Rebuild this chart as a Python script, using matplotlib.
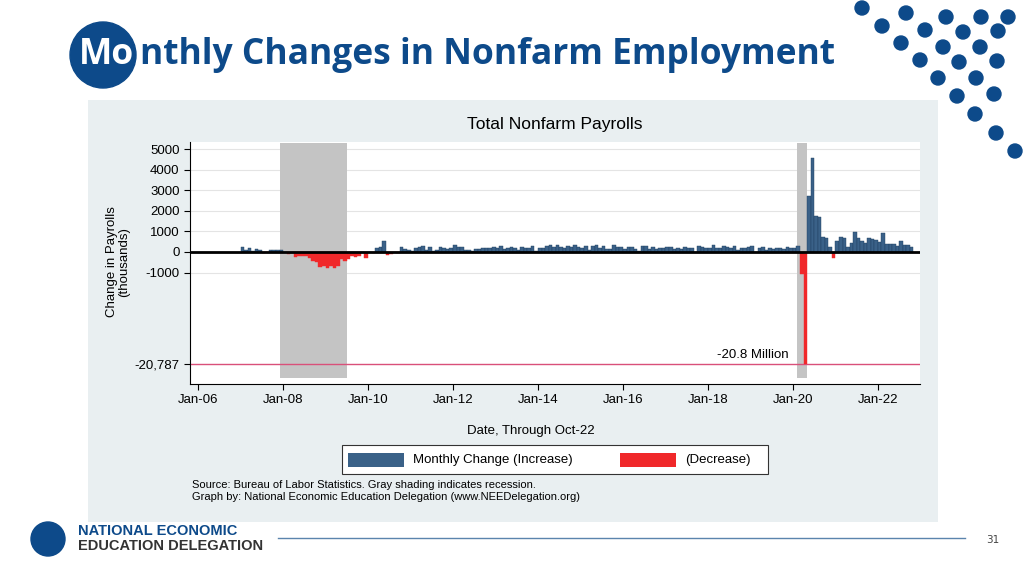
import matplotlib
matplotlib.use("Agg")
import matplotlib.pyplot as plt
from matplotlib.patches import Rectangle, Circle
import numpy as np

years = list(range(2007, 2023))
changes = {
2007: [240, 90, 190, 70, 150, 80, -30, -20, 80, 80, 110, 100],
2008: [10, -80, -50, -230, -180, -170, -210, -270, -460, -480, -730, -700],
2009: [-780, -700, -800, -690, -330, -440, -330, -210, -220, -200, 10, -280],
2010: [10, -50, 180, 240, 520, -140, -90, -10, -70, 260, 130, 80],
2011: [70, 200, 230, 310, 100, 230, 70, 120, 230, 200, 140, 200],
2012: [360, 230, 230, 90, 100, 70, 160, 150, 190, 210, 170, 240],
2013: [190, 310, 140, 200, 240, 180, 110, 240, 190, 210, 280, 50],
2014: [190, 170, 270, 330, 240, 320, 220, 190, 280, 230, 330, 260],
2015: [200, 300, 100, 280, 340, 190, 290, 150, 140, 320, 250, 260],
2016: [140, 250, 230, 140, 40, 290, 290, 150, 250, 150, 200, 180],
2017: [230, 220, 150, 200, 150, 230, 190, 180, 20, 270, 230, 180],
2018: [170, 330, 180, 180, 270, 250, 190, 280, 110, 180, 180, 230],
2019: [310, 20, 200, 230, 90, 170, 160, 210, 200, 150, 260, 180],
2020: [210, 270, -1370, -20787, 2730, 4580, 1730, 1680, 710, 680, 260, -270],
2021: [520, 710, 700, 260, 450, 960, 690, 520, 420, 680, 650, 590],
2022: [500, 900, 400, 370, 390, 290, 540, 350, 350, 260],
}
recessions = [(2007.92, 2009.5), (2020.1, 2020.33)]
ytick_vals = [5000, 4000, 3000, 2000, 1000, 0, -1000, -20787]
ytick_labels = ["5000", "4000", "3000", "2000", "1000", "0", "-1000", "-20,787"]
xtick_years = list(range(2006, 2023, 2))
xtick_labels = ["Jan-%02d" % (y % 100) for y in xtick_years]

def f(v):
    v = np.asarray(v, dtype=float)
    return np.where(v >= -1000, v, -1000 + (v + 1000) * (4437 / 19787))

BLUE = "#3a6188"; RED = "#f0282a"; NAVY = "#0d4a8a"
FONT = "Liberation Sans"
fig = plt.figure(figsize=(10.24, 5.76), dpi=100)
fig.patch.set_facecolor("white")
W, H = 1024, 576
def fx(x): return x / W
def fy(y): return 1 - y / H

bg = fig.add_axes([0, 0, 1, 1], facecolor="none", zorder=0); bg.set_axis_off()
bg.set_xlim(0, W); bg.set_ylim(H, 0)
bg.add_patch(Rectangle((88, 100), 850, 422, facecolor="#e9eff1", edgecolor="none"))

ax = fig.add_axes([fx(190), fy(384), 730 / W, 242 / H], zorder=1)
ax.set_facecolor("white")
ax.set_xlim(2005.81, 2022.99)
ax.set_ylim(-6408, 5340)
for y in ytick_vals[:-1]:
    ax.axhline(f(y), color="#e4e4e4", lw=0.8, zorder=0)
for a, b in recessions:
    ax.add_patch(Rectangle((a, -6100), b - a, 11400, facecolor="#c4c4c4", edgecolor="none",
                           zorder=1, clip_on=False))
xs, vs = [], []
for yr in years:
    for m, v in enumerate(changes[yr]):
        xs.append(yr + m / 12 + 1 / 24); vs.append(v)
xs = np.array(xs); vs = np.array(vs)
cols = [BLUE if v >= 0 else RED for v in vs]
ax.bar(xs, f(vs), width=1 / 12, color=cols, edgecolor=[("#1e3f60" if v >= 0 else RED) for v in vs],
       linewidth=0.3, zorder=2)
ax.axhline(0, color="black", lw=2, zorder=3)
ax.axhline(f(-20787), color="#d9507a", lw=1, zorder=1)
ax.text(2019.9, f(-20787) + 150, "-20.8 Million", ha="right", va="bottom", fontsize=9.5, family=FONT)
ax.set_yticks(f(ytick_vals)); ax.set_yticklabels(ytick_labels, fontsize=9.5, family=FONT)
ax.set_xticks(xtick_years); ax.set_xticklabels(xtick_labels, fontsize=9.5, family=FONT)
for s in ["top", "right"]:
    ax.spines[s].set_visible(False)
ax.tick_params(length=4, width=0.8)

ov = fig.add_axes([0, 0, 1, 1], facecolor="none", zorder=2); ov.set_axis_off()
ov.set_xlim(0, W); ov.set_ylim(H, 0)
ov.text(555, 125, "Total Nonfarm Payrolls", ha="center", va="center", fontsize=12.5, family=FONT)
ov.text(118, 262, "Change in Payrolls\n(thousands)", ha="center", va="center", rotation=90,
        fontsize=9.5, family=FONT, linespacing=1.0)
ov.text(531, 431, "Date, Through Oct-22", ha="center", va="center", fontsize=9.5, family=FONT)
ov.add_patch(Rectangle((342, 445), 426, 29, facecolor="white", edgecolor="#333333", lw=0.8))
ov.add_patch(Rectangle((348, 453), 56, 14, facecolor=BLUE, edgecolor="none"))
ov.add_patch(Rectangle((620, 453), 56, 14, facecolor=RED, edgecolor="none"))
ov.text(413, 460, "Monthly Change (Increase)", va="center", fontsize=9.5, family=FONT)
ov.text(685, 460, "(Decrease)", va="center", fontsize=9.5, family=FONT)
ov.text(192, 485, "Source: Bureau of Labor Statistics. Gray shading indicates recession.",
        va="center", fontsize=8, family=FONT)
ov.text(192, 497, "Graph by: National Economic Education Delegation (www.NEEDelegation.org)",
        va="center", fontsize=8, family=FONT)

ov.add_patch(Circle((103, 55), 33, color=NAVY))
ov.text(79, 55, "Mo", color="white", fontsize=25.5, fontweight="bold", family="Open Sans", va="center")
ov.text(79 + 61, 55, "nthly Changes in Nonfarm Employment", color=NAVY, fontsize=25.5,
        fontweight="bold", family="Open Sans", va="center")
dots = [(862, 8), (882, 26), (901, 43), (920, 60), (938, 78), (957, 96), (975, 114), (996, 133), (1015, 151),
        (906, 13), (925, 30), (943, 47), (959, 62), (976, 78), (994, 94),
        (946, 17), (963, 32), (980, 47), (997, 61), (981, 17), (998, 31), (1008, 17)]
for (x, y) in dots:
    ov.add_patch(Circle((x, y), 7, color=NAVY))
ov.add_patch(Circle((48, 539), 17, color=NAVY))
ov.text(78, 531, "NATIONAL ECONOMIC", color=NAVY, fontsize=10.5, fontweight="bold", family=FONT, va="center")
ov.text(78, 546, "EDUCATION DELEGATION", color="#333333", fontsize=10.5, fontweight="bold", family=FONT, va="center")
ov.plot([278, 965], [538, 538], color="#5b84ad", lw=1)
ov.text(993, 540, "31", color="#444444", fontsize=7.5, ha="center", va="center")

fig.savefig("out.png", dpi=100)
